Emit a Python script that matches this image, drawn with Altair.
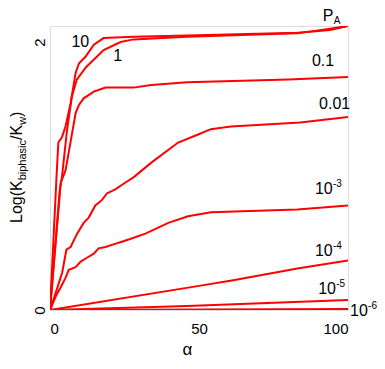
import altair as alt
import pandas as pd

# ---- data ----
alpha_10 = [0, 2.2, 2.8, 4.0, 5.2, 6.9, 8.6, 9.7, 11.9, 14.7, 18, 28, 46, 83, 94, 100]
val_10 = [0, 1.0, 1.25, 1.29, 1.37, 1.54, 1.77, 1.84, 1.89, 1.98, 2.03, 2.04, 2.05, 2.07, 2.09, 2.12]

alpha_1 = [0, 3.3, 4.0, 5.7, 7.3, 9.0, 12, 18, 23.7, 28, 46, 83, 94, 100]
val_1 = [0, 0.9, 0.99, 1.34, 1.59, 1.72, 1.81, 1.94, 2.0, 2.02, 2.04, 2.065, 2.1, 2.12]

alpha_01 = [0, 3.6, 5.2, 8.6, 9.7, 11.3, 14.7, 18.6, 28, 34, 46, 80, 100]
val_01 = [0, 0.95, 1.04, 1.47, 1.53, 1.58, 1.63, 1.66, 1.66, 1.68, 1.70, 1.72, 1.74]

alpha_001 = [0, 1.5, 4.1, 5.5, 6.9, 8.0, 9.1, 11.3, 13, 15.2, 17.4, 19.1, 21.9, 25.2, 28, 34, 43, 49.7, 54, 60.7, 84, 100]
val_001 = [0, 0.10, 0.28, 0.45, 0.47, 0.52, 0.57, 0.65, 0.69, 0.78, 0.82, 0.87, 0.90, 0.95, 0.99, 1.10, 1.25, 1.31, 1.35, 1.37, 1.40, 1.44]

alpha_1e3 = [0, 1.9, 3.6, 5.2, 6.3, 8.6, 10.2, 12.4, 14.7, 16.3, 18.6, 21.3, 24.1, 26.9, 32, 39.7, 46.3, 54, 83, 100]
val_1e3 = [0, 0.10, 0.17, 0.24, 0.30, 0.32, 0.36, 0.39, 0.42, 0.46, 0.47, 0.49, 0.51, 0.53, 0.57, 0.65, 0.70, 0.73, 0.75, 0.78]

alpha_1e4 = [0, 50, 61, 83, 100]
val_1e4 = [0, 0.18, 0.22, 0.31, 0.37]

alpha_1e5 = [0, 46, 100]
val_1e5 = [0, 0.03, 0.075]

alpha_1e6 = [0, 100]
val_1e6 = [0, 0.007]

series_names = ["10", "1", "0.1", "0.01", "1e-3", "1e-4", "1e-5", "1e-6"]
series_alpha = [alpha_10, alpha_1, alpha_01, alpha_001, alpha_1e3, alpha_1e4, alpha_1e5, alpha_1e6]
series_val = [val_10, val_1, val_01, val_001, val_1e3, val_1e4, val_1e5, val_1e6]

# curve labels (left anchor, in data units)
label_text = ["10", "1", "0.1", "0.01", "10", "10", "10", "10", "P"]
label_alpha = [7.2, 21.2, 87.9, 90.3, 88.9, 88.9, 90.0, 100.7, 91.5]
label_val = [2.0, 1.896, 1.858, 1.537, 0.903, 0.44, 0.157, -0.0075, 2.196]

sup_text = ["-3", "-4", "-5", "-6"]
sup_alpha = [88.9, 88.9, 90.0, 100.7]
sup_val = [0.903, 0.44, 0.157, -0.0075]

sub_text = ["A"]
sub_alpha = [91.5]
sub_val = [2.196]

x_ticks = [0, 50, 100]
y_ticks = [0, 1, 2]

FONT = "Liberation Sans"
RED = "#ff0000"

rows = []
for name, xs, ys in zip(series_names, series_alpha, series_val):
    for i, (a, v) in enumerate(zip(xs, ys)):
        rows.append({"series": name, "alpha": a, "val": v, "i": i})
df = pd.DataFrame(rows)

xscale = alt.Scale(domain=[0, 100], nice=False, zero=False)
yscale = alt.Scale(domain=[0, 2.12], nice=False, zero=False)

lines = alt.Chart(df).mark_line(color=RED, strokeWidth=2, clip=True).encode(
    x=alt.X("alpha:Q", scale=xscale,
            axis=alt.Axis(values=x_ticks, format="d", title="α", labelFontSize=15,
                          labelFont=FONT, labelColor="black", ticks=False, domain=False,
                          grid=False, labelPadding=11, titleFont=FONT, titleFontSize=17,
                          titleFontWeight="normal", titleColor="black",
                          titleX=137, titleY=44, titleBaseline="alphabetic")),
    y=alt.Y("val:Q", scale=yscale,
            axis=alt.Axis(values=y_ticks, format="d", title=None, labelFontSize=15,
                          labelFont=FONT, labelColor="black", ticks=False, domain=False,
                          grid=False, labelAngle=270, labelAlign="center",
                          labelBaseline="alphabetic", labelPadding=6)),
    detail="series:N",
    order="i:Q",
)

lab_df = pd.DataFrame({"t": label_text, "alpha": label_alpha, "val": label_val})
labels = alt.Chart(lab_df).mark_text(align="left", baseline="middle", font=FONT,
                                     fontSize=16, color="black").encode(
    x=alt.X("alpha:Q", scale=xscale), y=alt.Y("val:Q", scale=yscale), text="t:N")

sup_df = pd.DataFrame({"t": sup_text, "alpha": sup_alpha, "val": sup_val})
sups = alt.Chart(sup_df).mark_text(align="left", baseline="middle", font=FONT,
                                   fontSize=10, color="black", dx=18, dy=-5).encode(
    x=alt.X("alpha:Q", scale=xscale), y=alt.Y("val:Q", scale=yscale), text="t:N")

sub_df = pd.DataFrame({"t": sub_text, "alpha": sub_alpha, "val": sub_val})
subs = alt.Chart(sub_df).mark_text(align="left", baseline="middle", font=FONT,
                                   fontSize=10, color="black", dx=11, dy=5).encode(
    x=alt.X("alpha:Q", scale=xscale), y=alt.Y("val:Q", scale=yscale), text="t:N")

# y title with subscripts, rotated pieces laid out along the text direction
W = {"L": .556, "o": .556, "g": .556, "(": .333, "K": .667, "b": .556, "i": .222,
     "p": .556, "h": .556, "a": .556, "s": .5, "c": .5, "/": .278, "w": .722, ")": .333}
pieces = [("Log(K", False), ("biphasic", True), ("/K", False), ("w", True), (")", False)]
MAIN, SUB = 16, 11
base_x = -28
cur_y = 197.0
trows = []
for txt, is_sub in pieces:
    fs = SUB if is_sub else MAIN
    trows.append({"t": txt, "px": base_x + (3.5 if is_sub else 0), "py": cur_y, "fs": fs})
    cur_y -= sum(W[c] for c in txt) * fs
tdf = pd.DataFrame(trows)
ytitle = alt.Chart(tdf).mark_text(align="left", baseline="alphabetic", angle=270,
                                  font=FONT, color="black").encode(
    x=alt.X("px:Q", scale=None), y=alt.Y("py:Q", scale=None),
    text="t:N", size=alt.Size("fs:Q", scale=None))

chart = alt.layer(lines, labels, sups, subs, ytitle).properties(
    width=298, height=284,
    autosize=alt.AutoSizeParams(type="none"),
    padding={"left": 42, "top": 18, "right": 29, "bottom": 48},
).configure_view(stroke="black", strokeWidth=2).configure(background="white")

chart.save("out.html", embed_options={"renderer": "svg", "actions": False})
